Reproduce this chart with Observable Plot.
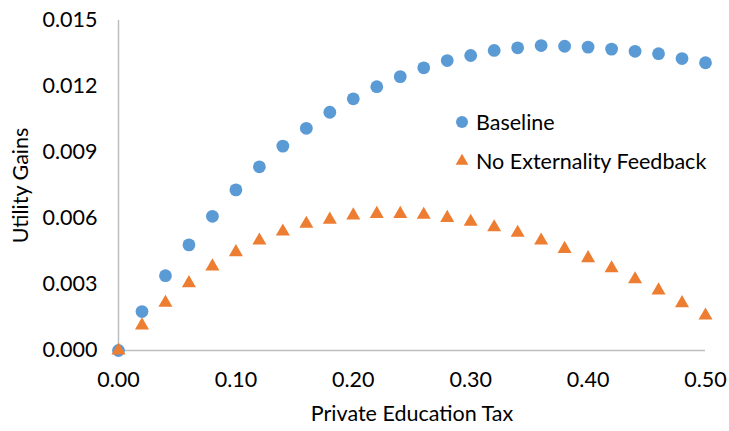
<!DOCTYPE html>
<html>
<head>
<meta charset="utf-8">
<script src="https://cdn.jsdelivr.net/npm/d3@7"></script>
<script src="https://cdn.jsdelivr.net/npm/@observablehq/plot@0.6"></script>
<style>
  html, body { margin: 0; padding: 0; background: #fff; }
  #wrap { position: relative; width: 729px; height: 431px; font-family: Lato, "Open Sans", sans-serif; }
  .legend { position: absolute; left: 455px; font-size: 21.5px; color: #000; display: flex; align-items: center; white-space: nowrap; }
  .legend svg { margin-right: 7px; }
</style>
</head>
<body>
<div id="wrap"></div>
<script>
const taxRates = [0.00,0.02,0.04,0.06,0.08,0.10,0.12,0.14,0.16,0.18,0.20,0.22,0.24,0.26,0.28,0.30,0.32,0.34,0.36,0.38,0.40,0.42,0.44,0.46,0.48,0.50];
const baseline = [0.0000,0.00177,0.00340,0.00480,0.00610,0.00730,0.00835,0.00929,0.01010,0.01083,0.01144,0.01199,0.01245,0.01285,0.01318,0.01341,0.01364,0.01376,0.01386,0.01383,0.01379,0.01370,0.01360,0.01349,0.01327,0.01308];
const noFeedback = [0.0000,0.00114,0.00217,0.00306,0.00382,0.00447,0.00500,0.00541,0.00576,0.00595,0.00614,0.00621,0.00621,0.00617,0.00603,0.00585,0.00560,0.00535,0.00500,0.00462,0.00420,0.00374,0.00324,0.00273,0.00215,0.00159];
const yTicks = [0, 0.003, 0.006, 0.009, 0.012, 0.015];
const xTicks = [0, 0.1, 0.2, 0.3, 0.4, 0.5];
const seriesNames = ["Baseline", "No Externality Feedback"];
const colors = ["#5B9BD5", "#ED7D31"];

const baseData = taxRates.map((t, i) => ({t, v: baseline[i]}));
const nfData = taxRates.map((t, i) => ({t, v: noFeedback[i]}));

const chart = Plot.plot({
  width: 729,
  height: 431,
  marginLeft: 118,
  marginRight: 24,
  marginTop: 20,
  marginBottom: 81,
  style: {fontFamily: "Lato, 'Open Sans', sans-serif", fontSize: "21.5px", color: "#000", background: "#fff"},
  x: {domain: [0, 0.5]},
  y: {domain: [0, 0.015]},
  marks: [
    Plot.ruleX([0], {stroke: "#BFBFBF", strokeWidth: 1.5}),
    Plot.ruleY([0], {stroke: "#BFBFBF", strokeWidth: 1.5}),
    Plot.axisX({ticks: xTicks, tickFormat: d3.format(".2f"), tickSize: 0, tickPadding: 21, label: "Private Education Tax", labelAnchor: "center", labelArrow: "none", labelOffset: 70, fill: "#000"}),
    Plot.axisY({ticks: yTicks, tickFormat: d3.format(".3f"), tickSize: 0, tickPadding: 21, label: "Utility Gains", labelAnchor: "center", labelArrow: "none", labelOffset: 106, fill: "#000"}),
    Plot.dot(baseData, {x: "t", y: "v", r: 6.4, fill: colors[0], stroke: "none"}),
    Plot.dot(nfData, {x: "t", y: "v", r: 5.2, symbol: "triangle", fill: colors[1], stroke: "none"})
  ]
});
const wrap = document.getElementById("wrap");
wrap.appendChild(chart);

const legendY = [122, 161];
seriesNames.forEach((name, i) => {
  const div = document.createElement("div");
  div.className = "legend";
  div.style.top = (legendY[i] - 14) + "px";
  const sym = i === 0
    ? `<svg width="14" height="28" viewBox="-7 -14 14 28"><circle r="6" fill="${colors[0]}"/></svg>`
    : `<svg width="14" height="28" viewBox="-7 -14 14 28"><path d="${d3.symbol(d3.symbolTriangle, 70)()}" fill="${colors[1]}"/></svg>`;
  div.innerHTML = sym + `<span>${name}</span>`;
  wrap.appendChild(div);
});
</script>
</body>
</html>
